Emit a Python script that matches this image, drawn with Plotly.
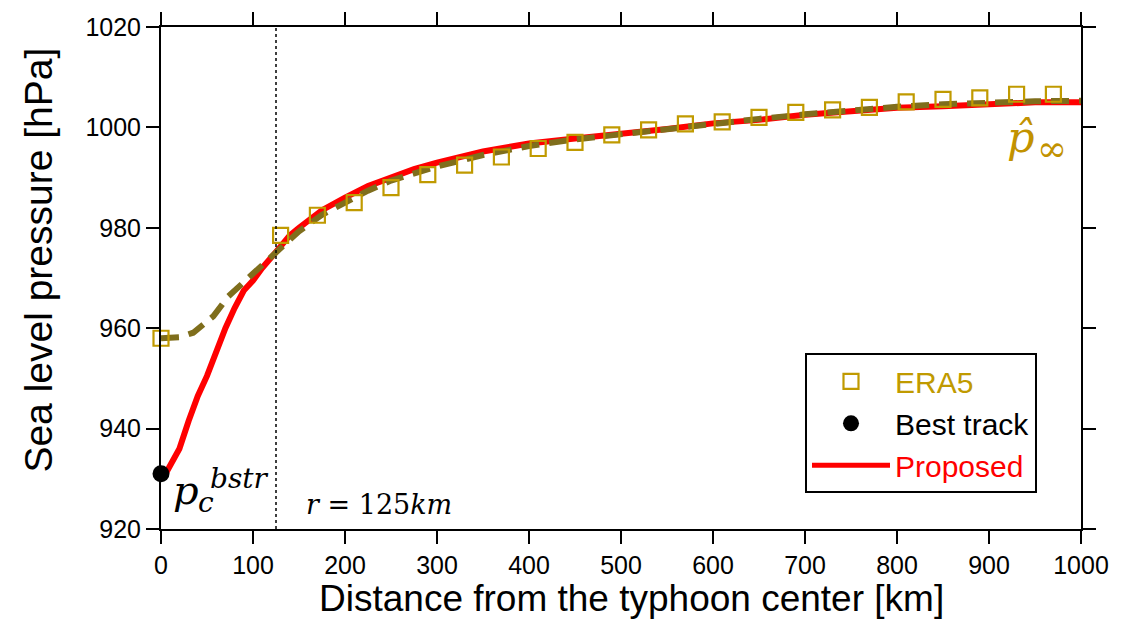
import plotly.graph_objects as go

# ERA5 sampled sea level pressure (squares)
era5_r = [0, 130, 170, 210, 250, 290, 330, 370, 410, 450, 490, 530, 570, 610,
          650, 690, 730, 770, 810, 850, 890, 930, 970]
era5_p = [958.0, 978.5, 982.5, 985.0, 988.0, 990.6, 992.5, 994.1, 995.8, 997.0,
          998.5, 999.5, 1000.7, 1001.1, 1002.0, 1003.0, 1003.5, 1004.0, 1005.1,
          1005.6, 1005.9, 1006.6, 1006.6]

# ERA5 radial profile (dashed line)
era5_prof_r = [0, 20, 35, 45, 57, 73, 91, 108, 124, 150, 175, 200, 225, 250, 300,
               350, 400, 450, 500, 550, 600, 650, 700, 750, 800, 850, 900, 950, 1000]
era5_prof_p = [958.0, 958.2, 959.1, 960.5, 962.4, 966.3, 969.3, 972.3, 975.2, 979.3,
               982.6, 985.1, 987.4, 989.4, 992.2, 994.5, 996.3, 997.6, 998.7, 999.8,
               1000.8, 1001.7, 1002.6, 1003.4, 1004.1, 1004.6, 1005.0, 1005.2, 1005.3]

# Best track central pressure
best_r = [0]
best_p = [931.0]

# Proposed profile
prop_r = [5, 10, 20, 30, 40, 50, 60, 70, 80, 90, 100, 110, 125, 140, 150, 175, 200,
          225, 250, 275, 300, 325, 350, 375, 400, 450, 500, 550, 600, 650, 700, 750,
          800, 850, 900, 950, 1000]
prop_p = [931.0, 932.5, 936.0, 941.5, 946.5, 950.5, 955.5, 960.0, 964.0, 967.5, 969.5,
          972.0, 975.2, 978.5, 980.0, 983.5, 986.0, 988.3, 990.0, 991.7, 993.0, 994.2,
          995.2, 996.0, 996.8, 997.8, 998.7, 999.7, 1000.8, 1001.5, 1002.5, 1003.2,
          1003.9, 1004.2, 1004.5, 1005.0, 1005.0]

r_mark = 125

GOLD = "#C09A00"
HATGOLD = "#C29200"
OLIVE = "#7F6E1C"
MATH = "DejaVu Serif, serif"
SANS = "Arial, Liberation Sans, sans-serif"

fig = go.Figure()

fig.add_trace(go.Scatter(
    x=prop_r, y=prop_p, mode="lines", showlegend=False,
    line=dict(color="#FF0000", width=6), cliponaxis=False))
fig.add_trace(go.Scatter(
    x=era5_prof_r, y=era5_prof_p, mode="lines", showlegend=False,
    line=dict(color=OLIVE, width=6, dash="18px,10px"), cliponaxis=False))
fig.add_trace(go.Scatter(
    x=era5_r, y=era5_p, mode="markers", name=f"<span style='color:{GOLD}'>ERA5</span>",
    marker=dict(symbol="square-open", size=15, color=GOLD, line=dict(width=2.2, color=GOLD)),
    cliponaxis=False))
fig.add_trace(go.Scatter(
    x=best_r, y=best_p, mode="markers", name="Best track",
    marker=dict(symbol="circle", size=17, color="black"), cliponaxis=False))
# legend entry for the proposed profile
fig.add_trace(go.Scatter(
    x=[None], y=[None], mode="lines", name="<span style='color:#FF0000'>Proposed</span>",
    line=dict(color="#FF0000", width=5)))

# vertical reference radius
fig.add_shape(type="line", x0=r_mark, x1=r_mark, y0=920, y1=1020, xref="x", yref="y",
              line=dict(color="black", width=1.5, dash="3px,3px"))

annots = [
    dict(x=27.5, y=927.7, text="<i>p</i>", size=40, color="black"),
    dict(x=48.5, y=925.3, text="<i>c</i>", size=28, color="black"),
    dict(x=85.0, y=930.1, text="<i>bstr</i>", size=28, color="black"),
    dict(x=237.0, y=924.8, text="<i>r</i> = 125<i>km</i>", size=27, color="black"),
    dict(x=934.8, y=998.0, text="<i>p̂</i>", size=43, color=HATGOLD),
    dict(x=968.5, y=995.8, text="∞", size=36, color=HATGOLD),
]
for a in annots:
    fig.add_annotation(x=a["x"], y=a["y"], xref="x", yref="y", text=a["text"],
                       showarrow=False, xanchor="center", yanchor="middle",
                       font=dict(family=MATH, size=a["size"], color=a["color"]))

# axis titles
fig.add_annotation(x=0.511, y=-0.1386, xref="paper", yref="paper",
                   text="Distance from the typhoon center [km]", showarrow=False,
                   xanchor="center", yanchor="middle",
                   font=dict(family=SANS, size=37, color="black"))
fig.add_annotation(x=-0.1326, y=0.5347, xref="paper", yref="paper",
                   text="Sea level pressure [hPa]", showarrow=False, textangle=-90,
                   xanchor="center", yanchor="middle",
                   font=dict(family=SANS, size=39, color="black"))

axis_common = dict(showline=True, linecolor="black", linewidth=2, mirror="ticks",
                   ticks="outside", ticklen=13, tickwidth=2, tickcolor="black",
                   showgrid=False, zeroline=False,
                   tickfont=dict(family=SANS, size=25, color="black"))

fig.update_xaxes(range=[0, 1000], dtick=100, tick0=0, **axis_common)
fig.update_yaxes(range=[920, 1020], dtick=20, tick0=920, **axis_common)

fig.update_layout(
    width=1140, height=623,
    margin=dict(l=161, r=59, t=24, b=94),
    plot_bgcolor="white", paper_bgcolor="white",
    legend=dict(x=0.70, y=0.35, xanchor="left", yanchor="top",
                bordercolor="black", borderwidth=2, bgcolor="white",
                font=dict(family=SANS, size=30, color="black"),
                itemwidth=78, traceorder="normal", entrywidth=158),
)

fig.write_html("out.html")
